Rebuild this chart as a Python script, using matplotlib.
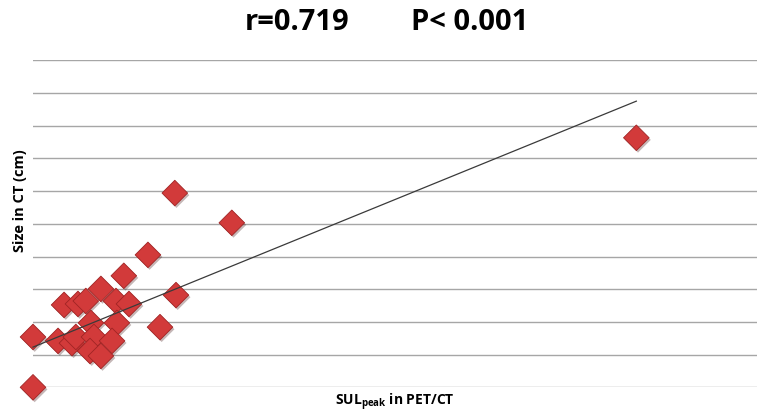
"""
Scatter of lesion size in CT against SUL peak in PET/CT, with linear trendline.
"""
import matplotlib
matplotlib.use("Agg")
import matplotlib.pyplot as plt
import matplotlib.patheffects as pe
import numpy as np

# values
sul_peak = [3.81, 3.01, 2.25, 1.03, 1.49, 1.75, 2.75, 3.18, 4.74, 0.00,
            0.83, 1.29, 1.42, 1.92, 2.02, 2.78, 2.62, 1.89, 2.25, 4.21,
            0.00, 4.70, 6.59, 20.00]
size_ct = [4.05, 3.41, 3.01, 2.52, 2.55, 2.64, 2.64, 2.55, 2.82, 1.54,
           1.42, 1.35, 1.54, 1.97, 1.54, 1.97, 1.42, 1.11, 0.96, 1.84,
           0.00, 5.94, 5.03, 7.63]
# trendline as drawn in the picture (intercept, slope)
trend_intercept = 1.23
trend_slope = 0.376
stat_r = "r=0.719"
stat_p = "P< 0.001"

plt.rcParams["font.family"] = ["Open Sans", "DejaVu Sans"]
plt.rcParams["mathtext.fontset"] = "custom"
plt.rcParams["mathtext.rm"] = "Open Sans"
plt.rcParams["mathtext.bf"] = "Open Sans:bold"

fig = plt.figure(figsize=(7.57, 4.14), dpi=100)
ax = fig.add_axes([0.0436, 0.062, 0.9564, 0.790])

x = np.array(sul_peak)
y = np.array(size_ct)

xx = np.array([x.min(), x.max()])
ax.plot(xx, trend_intercept + trend_slope * xx, color="#3a3a3a", lw=0.9,
        zorder=4, clip_on=False)

ax.scatter(
    x, y, marker="D", s=170, facecolor="#d23a3a", edgecolor="#a02424",
    linewidth=0.6, zorder=3, clip_on=False,
    path_effects=[pe.SimplePatchShadow(offset=(1.2, -1.5), alpha=0.3),
                  pe.Normal()],
)

ax.set_xlim(0, 24)
ax.set_ylim(0, 10)
ax.set_yticks(np.arange(0, 11, 1))
ax.set_xticks([])
ax.grid(axis="y", color="#a6a6a6", lw=1.0)
ax.set_axisbelow(True)
ax.tick_params(left=False, labelleft=False, bottom=False, labelbottom=False)
for s in ax.spines.values():
    s.set_visible(False)

fig.text(0.392, 0.945, stat_r, ha="center", va="center",
         fontsize=21, fontweight="bold")
fig.text(0.620, 0.945, stat_p, ha="center", va="center",
         fontsize=21, fontweight="bold")

fig.text(0.026, 0.515, "Size in CT (cm)", rotation=90, ha="center",
         va="center", fontsize=10.5, fontweight="bold")
fig.text(0.522, 0.027, r"$\mathbf{SUL}_{\mathbf{peak}}$ in PET/CT",
         ha="center", va="center", fontsize=10, fontweight="bold")

fig.savefig("out.png", dpi=100)
